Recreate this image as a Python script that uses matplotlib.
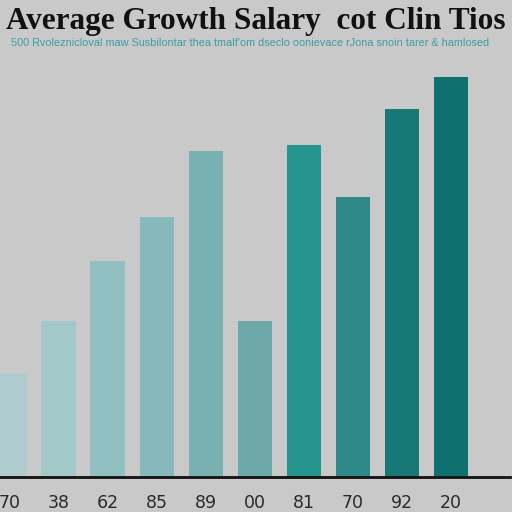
import matplotlib
matplotlib.use("Agg")
import matplotlib.pyplot as plt

categories = ["70", "38", "62", "85", "89", "00", "81", "70", "92", "20"]
values = [26, 39, 54, 65, 81.5, 39, 83, 70, 92, 100]
colors = ["#afcbcf", "#a3c8ca", "#92bfc2", "#87b8bb", "#79b0b2",
          "#6da8a8", "#23948e", "#2e8a88", "#177876", "#0e706f"]

title = "Average Growth Salary  cot Clin Tios"
subtitle = ("500 Rvoleznicloval maw Susbilontar thea tmalf'om dseclo "
            "oonievace rJona snoin tarer & hamlosed")

bg = "#c9c9c9"
fig = plt.figure(figsize=(5.12, 5.12), dpi=100, facecolor=bg)
ax = fig.add_axes([0.0, 35 / 512, 510 / 512, (477 - 60) / 512])
ax.set_facecolor(bg)

x = list(range(len(values)))
ax.bar(x, values, width=0.70, color=colors, zorder=2)

ax.set_xlim(-0.194, 10.2)
ax.set_ylim(0, (477 - 60) / 4)
ax.set_xticks(x)
ax.set_xticklabels(categories, fontsize=12.5, color="#2a2a2a")
ax.tick_params(axis="x", length=0, pad=12)
ax.set_yticks([])
for s in ["top", "right", "left"]:
    ax.spines[s].set_visible(False)
ax.spines["bottom"].set_linewidth(2)
ax.spines["bottom"].set_color("#111111")

fig.text(0.50, 1 - 21 / 512, title, ha="center", va="center",
         fontsize=22.5, family="Liberation Serif", weight="bold",
         color="#111111")
fig.text(250 / 512, 1 - 43 / 512, subtitle, ha="center", va="center",
         fontsize=7.8, family="Liberation Sans", color="#3a9ea6")

fig.savefig("out.png", dpi=100, facecolor=bg)
